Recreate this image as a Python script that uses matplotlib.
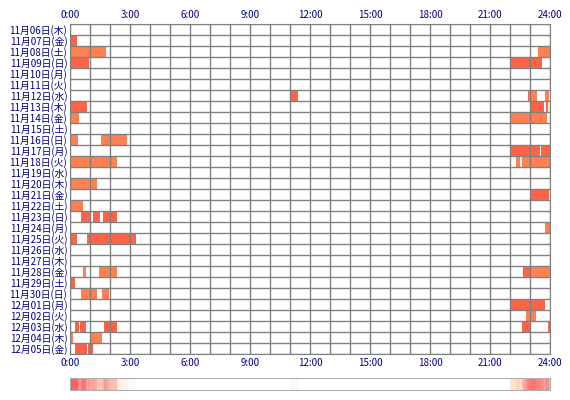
import matplotlib

matplotlib.use("Agg")
import matplotlib.pyplot as plt
import numpy as np
from matplotlib.colors import LinearSegmentedColormap
import datetime as dt

plt.rcParams["font.family"] = ["Noto Sans CJK JP", "DejaVu Sans"]

TOMATO = "#ff6347"
CORAL = "#ff8050"
WEEK = "月火水木金土日"

start = dt.date(2014, 11, 6)
days = [start + dt.timedelta(days=i) for i in range(30)]
labels = [f"{d.month}月{d.day:02d}日({WEEK[d.weekday()]})" for d in days]

# (row index, start hour, end hour, colour key) ; t = tomato, c = coral
segments = [
    (1, 0.0, 0.37, "t"),
    (2, 0.0, 1.8, "c"), (2, 23.4, 24.0, "c"),
    (3, 0.0, 0.97, "t"), (3, 22.0, 23.6, "t"),
    (6, 11.0, 11.4, "t"), (6, 22.88, 22.93, "t"), (6, 22.93, 23.37, "c"), (6, 23.77, 23.97, "c"),
    (7, 0.0, 0.85, "t"), (7, 23.05, 23.7, "t"), (7, 23.8, 23.9, "t"),
    (8, 0.0, 0.47, "c"), (8, 22.0, 23.87, "c"),
    (10, 0.0, 0.4, "c"), (10, 1.57, 2.87, "c"),
    (11, 22.0, 23.5, "t"), (11, 23.55, 24.0, "t"),
    (12, 0.0, 2.37, "c"), (12, 22.3, 22.5, "c"), (12, 22.6, 24.0, "c"),
    (14, 0.0, 1.35, "c"),
    (15, 23.0, 23.97, "t"),
    (16, 0.0, 0.65, "c"),
    (17, 0.57, 1.07, "t"), (17, 1.13, 1.5, "t"), (17, 1.67, 2.37, "t"),
    (18, 23.75, 24.0, "c"),
    (19, 0.0, 0.37, "t"), (19, 0.87, 3.32, "t"),
    (22, 0.67, 0.8, "c"), (22, 1.43, 2.37, "c"), (22, 22.66, 23.0, "t"), (22, 23.0, 24.0, "c"),
    (23, 0.0, 0.27, "t"),
    (24, 0.57, 1.37, "c"), (24, 1.62, 1.97, "c"),
    (25, 22.0, 23.75, "t"),
    (26, 22.8, 23.0, "c"), (26, 23.0, 23.3, "c"),
    (27, 0.27, 0.47, "t"), (27, 0.52, 0.82, "t"), (27, 1.72, 2.37, "t"),
    (27, 22.6, 23.05, "t"), (27, 23.9, 24.0, "t"),
    (28, 0.0, 0.17, "c"), (28, 1.07, 1.62, "c"),
    (29, 0.27, 0.83, "t"), (29, 0.9, 1.15, "t"),
]

fig = plt.figure(figsize=(5.7, 4.0), dpi=100)
ax = fig.add_axes([70 / 570, 1 - 354 / 400, 480 / 570, 330 / 400])
n = len(labels)
for r, a, b, c in segments:
    ax.barh(r, b - a, left=a, height=0.92, color=TOMATO if c == "t" else CORAL, lw=0)
ax.set_xlim(0, 24)
ax.set_ylim(n - 0.5, -0.5)
ax.set_xticks(range(25), minor=False)
ax.set_yticks(np.arange(n + 1) - 0.5, minor=True)
ax.set_yticks(range(n))
ax.set_yticklabels(labels, fontsize=7, color="#000080")
ax.grid(True, axis="x", color="#808080", lw=1)
ax.grid(True, axis="y", which="minor", color="#808080", lw=1)
ax.set_axisbelow(False)
for s in ax.spines.values():
    s.set_color("#808080")
ax.tick_params(axis="both", which="both", length=0)
ax.tick_params(axis="y", pad=2)
ax.set_xticklabels([f"{h}:00" if h % 3 == 0 else "" for h in range(25)],
                   fontsize=7, color="#000080")
ax.tick_params(axis="x", labeltop=True, labelbottom=True, pad=3)

# density strip: fraction of days active in each minute
minutes = np.zeros(24 * 60)
for r, a, b, c in segments:
    minutes[int(a * 60):int(b * 60)] += 1
cmap = LinearSegmentedColormap.from_list("d", ["#ffffff", "#ffe0cc", "#ff8080", "#ff5050"])
sx = fig.add_axes([70 / 570, 1 - 390 / 400, 480 / 570, 12 / 400])
sx.imshow(minutes[None, :], aspect="auto", cmap=cmap, vmin=0, vmax=minutes.max() * 1.1,
          extent=(0, 24, 0, 1))
sx.set_xticks([])
sx.set_yticks([])
for s in sx.spines.values():
    s.set_color("#b0b0b0")

fig.savefig("out.png", dpi=100)
